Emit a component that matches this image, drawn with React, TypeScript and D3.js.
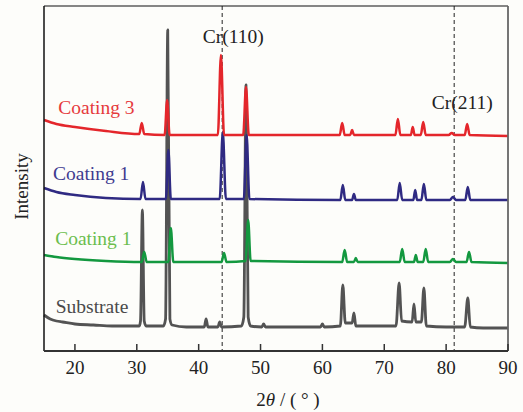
import * as d3 from 'd3';

// tick labels on the 2θ axis
const xTicks = [20, 30, 40, 50, 60, 70, 80, 90];

// reference lines for Cr reflections
const crLines = [43.8, 81.3];
const crLabels = ['Cr(110)', 'Cr(211)'];
const crLabelAt: [number, number][] = [[45.6, 308], [82.6, 242]];

// patterns, [2θ, intensity] (already offset for stacking)
const substrate: [number, number][] = [
  [15, 36], [16, 32], [17, 30], [18, 29], [20, 27], [23, 26], [26, 25], [30.4, 25], [30.6, 30],
  [30.9, 141], [31.2, 30], [31.5, 25], [32.5, 25], [34.3, 25], [34.65, 32], [35.0, 321], [35.35, 32],
  [35.7, 26], [38, 24], [40.9, 24], [41.2, 32], [41.5, 24], [43.1, 24], [43.4, 29], [43.7, 24],
  [46.9, 25], [47.3, 34], [47.65, 266], [48.0, 34], [48.4, 25], [50.2, 24], [50.5, 27], [50.8, 24],
  [59.7, 24], [60.0, 27], [60.3, 24], [62.9, 25], [63.3, 66], [63.7, 28], [64.8, 28], [65.1, 38],
  [65.4, 25], [71.9, 25], [72.4, 68], [72.8, 30], [74.5, 29], [74.8, 47], [75.1, 29], [76.0, 29],
  [76.4, 63], [76.8, 25], [80, 24], [83.0, 24], [83.5, 53], [83.9, 24], [86, 23], [90, 23],
];

const coatingGreen: [number, number][] = [
  [15, 96], [17, 94], [20, 92], [25, 90], [30.8, 89], [31.2, 99], [31.6, 89], [35.1, 89],
  [35.5, 123], [35.9, 89], [43.7, 89], [44.1, 98], [44.5, 89], [47.6, 90], [48.0, 131], [48.4, 90],
  [63.2, 89], [63.6, 101], [64.0, 89], [65.1, 89], [65.4, 93], [65.7, 89], [72.5, 89], [72.9, 102],
  [73.3, 89], [74.8, 89], [75.1, 96], [75.4, 89], [76.3, 89], [76.7, 102], [77.1, 89], [80.6, 89],
  [81.1, 92], [81.6, 89], [83.3, 89], [83.7, 99], [84.1, 89], [90, 88],
];

const coatingBlue: [number, number][] = [
  [15, 163], [17, 159], [20, 156], [25, 153], [30.6, 152], [31.0, 169], [31.4, 152], [34.7, 152],
  [35.1, 201], [35.5, 152], [43.4, 152], [43.9, 219], [44.4, 152], [47.3, 152], [47.75, 216],
  [48.2, 152], [62.9, 151], [63.3, 166], [63.7, 151], [64.8, 151], [65.1, 157], [65.4, 151],
  [72.1, 151], [72.5, 168], [72.9, 151], [74.7, 151], [75.0, 161], [75.3, 151], [76.0, 151],
  [76.4, 167], [76.8, 151], [80.6, 151], [81.1, 154], [81.6, 151], [83.1, 151], [83.5, 164],
  [83.9, 151], [90, 151],
];

const coatingRed: [number, number][] = [
  [15, 231], [17, 227], [20, 224], [25, 220], [30.4, 217], [30.8, 228], [31.2, 217], [34.5, 216],
  [34.9, 251], [35.3, 216], [43.1, 216], [43.6, 296], [44.1, 216], [47.2, 216], [47.65, 264],
  [48.1, 216], [62.8, 216], [63.2, 228], [63.6, 216], [64.5, 216], [64.8, 221], [65.1, 216],
  [71.8, 216], [72.2, 232], [72.6, 216], [74.3, 216], [74.6, 224], [74.9, 216], [75.9, 216],
  [76.3, 229], [76.7, 216], [80.4, 216], [80.9, 218], [81.4, 216], [83.0, 216], [83.4, 227],
  [83.8, 216], [90, 215],
];

const seriesNames = ['Substrate', 'Coating 1', 'Coating 1', 'Coating 3'];
const seriesData = [substrate, coatingGreen, coatingBlue, coatingRed];
const seriesLabelAt: [number, number][] = [[16.9, 38], [16.8, 106], [16.45, 171], [17.3, 237]];
const lineColors = ['#535353', '#13983f', '#2f2a82', '#e4262b'];
const labelColors = ['#4a4a4a', '#6cbd4e', '#3f3b90', '#e63a3c'];

const W = 523;
const H = 412;
const margin = { top: 6, right: 15, bottom: 61, left: 44 };
const serif = '"Liberation Serif", "Times New Roman", serif';

export default function App() {
  const x = d3.scaleLinear().domain([15, 90]).range([margin.left, W - margin.right]);
  const y = d3.scaleLinear().domain([0, 345]).range([H - margin.bottom, margin.top]);
  const line = d3.line<[number, number]>()
    .x(d => x(d[0]))
    .y(d => y(d[1]))
    .curve(d3.curveMonotoneX);

  const x0 = margin.left;
  const x1 = W - margin.right;
  const y0 = H - margin.bottom;
  const y1 = margin.top;

  return (
    <svg width={W} height={H} style={{ position: 'absolute', left: 0, top: 0, background: '#fdfdfa' }}
      fontFamily={serif}>
      {/* dashed Cr reference lines */}
      {crLines.map((p, i) => (
        <line key={'cr' + i} x1={x(p)} x2={x(p)} y1={y1} y2={y0}
          stroke="#222" strokeWidth={1} strokeDasharray="4,3" />
      ))}

      {seriesData.map((d, i) => (
        <path key={'s' + i} d={line(d) || ''} fill="none" stroke={lineColors[i]}
          strokeWidth={i === 0 ? 2.8 : 2.5} strokeLinejoin="round" />
      ))}

      {/* frame */}
      <line x1={x0} x2={x1} y1={y1} y2={y1} stroke="#111" strokeWidth={1.2} />
      <line x1={x0} x2={x0} y1={y1} y2={y0} stroke="#111" strokeWidth={1.5} />
      <line x1={x1} x2={x1} y1={y1} y2={y0} stroke="#666" strokeWidth={1.8} />
      <line x1={x0} x2={x1} y1={y0} y2={y0} stroke="#333" strokeWidth={1.8} />

      {xTicks.map(t => (
        <g key={t}>
          <line x1={x(t)} x2={x(t)} y1={y0} y2={y0 - 7} stroke="#333" strokeWidth={1.5} />
          <text x={x(t)} y={y0 + 23} textAnchor="middle" fontSize={19} fill="#222">{t}</text>
        </g>
      ))}

      {crLabels.map((s, i) => (
        <text key={s} x={x(crLabelAt[i][0])} y={y(crLabelAt[i][1])} textAnchor="middle"
          fontSize={19.5} fill="#222">{s}</text>
      ))}

      {seriesNames.map((s, i) => (
        <text key={'l' + i} x={x(seriesLabelAt[i][0])} y={y(seriesLabelAt[i][1])}
          fontSize={19.5} fill={labelColors[i]}>{s}</text>
      ))}

      <text transform={`translate(28,${(y0 + y1) / 2 + 8}) rotate(-90)`} textAnchor="middle"
        fontSize={19} fill="#222">Intensity</text>

      <text x={(x0 + x1) / 2 + 12} y={H - 6} textAnchor="middle" fontSize={19} fill="#222">
        2<tspan fontStyle="italic">θ</tspan> / ( ° )
      </text>
    </svg>
  );
}
